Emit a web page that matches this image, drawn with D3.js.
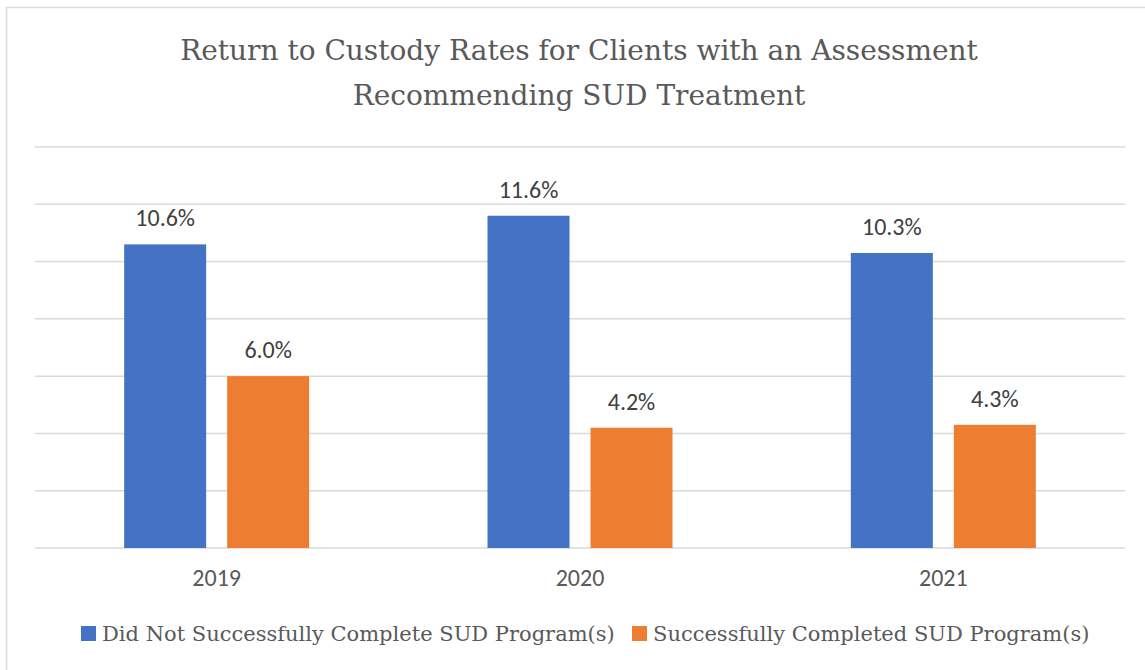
<!DOCTYPE html>
<html>
<head>
<meta charset="utf-8">
<script src="https://cdn.jsdelivr.net/npm/d3@7"></script>
<style>
  body { margin: 0; background: #fff; }
</style>
</head>
<body>
<div id="chart"></div>
<script>
const years = ["2019", "2020", "2021"];
const seriesNames = ["Did Not Successfully Complete SUD Program(s)", "Successfully Completed SUD Program(s)"];
const notCompleted = [10.6, 11.6, 10.3];
const completed = [6.0, 4.2, 4.3];
const colors = ["#4472c4", "#ed7d31"];
const gridTicks = [0, 2, 4, 6, 8, 10, 12, 14];
const titleLines = ["Return to Custody Rates for Clients with an Assessment", "Recommending SUD Treatment"];

const W = 1145, H = 670;
const plot = {left: 35, right: 1125, top: 147, bottom: 548};
const serif = "'Palatino Linotype', 'Book Antiqua', Palatino, 'DejaVu Serif', serif";
const sans = "Carlito, Calibri, 'Open Sans', 'Liberation Sans', sans-serif";

const svg = d3.select("#chart").append("svg")
    .attr("width", W).attr("height", H);

// outer border
svg.append("rect")
    .attr("x", 6.5).attr("y", 7.5).attr("width", W + 10).attr("height", H + 10)
    .attr("fill", "white").attr("stroke", "#d9d9d9").attr("stroke-width", 1.5);

const x = d3.scaleBand().domain(years).range([plot.left, plot.right]);
const y = d3.scaleLinear().domain([0, 14]).range([plot.bottom, plot.top]);

// gridlines
svg.append("g").selectAll("line")
    .data(gridTicks)
    .join("line")
    .attr("x1", plot.left).attr("x2", plot.right)
    .attr("y1", d => y(d)).attr("y2", d => y(d))
    .attr("stroke", "#d9d9d9").attr("stroke-width", 1.5);

const barW = 82, innerGap = 21;
const series = [notCompleted, completed];

series.forEach((vals, si) => {
    const g = svg.append("g");
    const bx = (d, i) => x(years[i]) + x.bandwidth() / 2 - barW - innerGap / 2 + si * (barW + innerGap);
    g.selectAll("rect")
        .data(vals)
        .join("rect")
        .attr("x", bx)
        .attr("y", d => y(d))
        .attr("width", barW)
        .attr("height", d => y(0) - y(d))
        .attr("fill", colors[si]);
    g.selectAll("text")
        .data(vals)
        .join("text")
        .attr("x", (d, i) => bx(d, i) + barW / 2)
        .attr("y", d => y(d) - 18)
        .attr("text-anchor", "middle")
        .attr("font-family", sans)
        .attr("font-size", 24)
        .attr("fill", "#404040")
        .text(d => d.toFixed(1) + "%");
});

// x axis labels
const xAxis = d3.axisBottom(x).tickSize(0).tickPadding(0);
const xg = svg.append("g")
    .attr("transform", `translate(0,${plot.bottom})`)
    .call(xAxis);
xg.select(".domain").remove();
xg.selectAll("text")
    .attr("y", 38)
    .attr("dy", 0)
    .attr("font-family", sans)
    .attr("font-size", 24)
    .attr("fill", "#595959");

// title
svg.append("g").selectAll("text")
    .data(titleLines)
    .join("text")
    .attr("x", 579)
    .attr("y", (d, i) => 60 + i * 45)
    .attr("text-anchor", "middle")
    .attr("font-family", serif)
    .attr("font-size", 28)
    .attr("fill", "#595959")
    .text(d => d);

// legend
const legendX = [81, 632];
const lg = svg.append("g").selectAll("g")
    .data(seriesNames)
    .join("g")
    .attr("transform", (d, i) => `translate(${legendX[i]},626)`);
lg.append("rect")
    .attr("width", 15).attr("height", 15)
    .attr("fill", (d, i) => colors[i]);
lg.append("text")
    .attr("x", 21).attr("y", 15)
    .attr("font-family", serif)
    .attr("font-size", 21)
    .attr("fill", "#595959")
    .text(d => d);
</script>
</body>
</html>
